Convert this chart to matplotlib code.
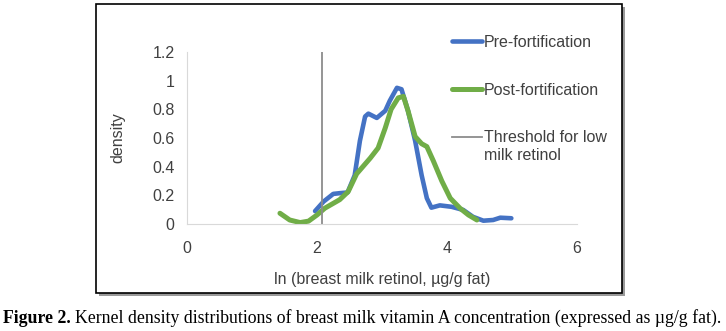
import matplotlib.pyplot as plt
from matplotlib.patches import Rectangle
from matplotlib.legend_handler import HandlerLine2D

# density curves
pre_x = [1.97, 2.10, 2.25, 2.35, 2.47, 2.58, 2.66, 2.74, 2.79, 2.92, 3.05, 3.12, 3.23,
         3.30, 3.40, 3.51, 3.61, 3.69, 3.76, 3.89, 4.07, 4.25, 4.40, 4.56, 4.71, 4.82, 4.99]
pre_y = [0.09, 0.156, 0.21, 0.215, 0.22, 0.34, 0.58, 0.75, 0.77, 0.74, 0.79, 0.86, 0.95,
         0.94, 0.79, 0.58, 0.34, 0.18, 0.114, 0.13, 0.12, 0.098, 0.05, 0.023, 0.028, 0.044, 0.04]
post_x = [1.43, 1.58, 1.74, 1.87, 2.00, 2.12, 2.35, 2.48, 2.61, 2.82, 2.94, 3.05, 3.14,
          3.25, 3.33, 3.40, 3.51, 3.61, 3.69, 3.79, 3.92, 4.05, 4.20, 4.33, 4.46]
post_y = [0.075, 0.028, 0.01, 0.02, 0.063, 0.11, 0.17, 0.226, 0.35, 0.46, 0.53, 0.67, 0.80,
          0.88, 0.89, 0.79, 0.61, 0.56, 0.54, 0.44, 0.30, 0.18, 0.11, 0.063, 0.028]
threshold = 2.07


class TopLineHandler(HandlerLine2D):
    # put the handle beside the first line of a two-line label
    def create_artists(self, legend, orig_handle, xdescent, ydescent, width, height,
                       fontsize, trans):
        artists = super().create_artists(legend, orig_handle, xdescent, ydescent, width,
                                         height, fontsize, trans)
        for a in artists:
            a.set_ydata([y + 0.62 * fontsize for y in a.get_ydata()])
        return artists


plt.rcParams['font.family'] = ['Liberation Sans', 'DejaVu Sans']

fig = plt.figure(figsize=(7.26, 3.31), dpi=100)
W, H = 726, 331

# framed panel with a drop shadow
fig.patches.append(Rectangle((99 / W, (H - 296) / H), 526 / W, 289 / H, transform=fig.transFigure,
                             facecolor='#9a9a9a', edgecolor='none', zorder=0))
fig.patches.append(Rectangle((96 / W, (H - 293) / H), 526 / W, 289 / H, transform=fig.transFigure,
                             facecolor='white', edgecolor='black', linewidth=1.2, zorder=1))

ax = fig.add_axes([187 / W, (H - 224) / H, 390 / W, 172 / H])
ax.set_facecolor('none')
ax.set_zorder(2)

ax.plot(pre_x, pre_y, color='#4472C4', linewidth=3.3, solid_capstyle='round',
        solid_joinstyle='round', label='Pre-fortification')
ax.plot(post_x, post_y, color='#70AD47', linewidth=3.6, solid_capstyle='round',
        solid_joinstyle='round', label='Post-fortification')
thr = ax.axvline(threshold, color='#8c8c8c', linewidth=1.3, label='Threshold for low\nmilk retinol')

ax.set_xlim(0, 6)
ax.set_ylim(0, 1.2)
ax.set_xticks([0, 2, 4, 6])
ax.set_yticks([0, 0.2, 0.4, 0.6, 0.8, 1.0, 1.2])
ax.set_yticklabels(['0', '0.2', '0.4', '0.6', '0.8', '1', '1.2'])
ax.tick_params(length=0, labelsize=11.5, colors='#404040', pad=9)
ax.tick_params(axis='x', pad=12)
for s in ['top', 'right']:
    ax.spines[s].set_visible(False)
ax.spines['left'].set_color('#d9d9d9')
ax.spines['bottom'].set_color('#d9d9d9')

ax.set_ylabel('density', fontsize=11.5, color='#404040', labelpad=19)
ax.set_xlabel('ln (breast milk retinol, µg/g fat)', fontsize=11.5, color='#404040', labelpad=11.5)

leg = ax.legend(loc='upper left', bbox_to_anchor=(0.6795, 1.10), frameon=False,
                fontsize=11.5, handlelength=1.88, handletextpad=0.12, labelspacing=2.05,
                borderpad=0, borderaxespad=0, labelcolor='#404040',
                handler_map={thr: TopLineHandler()})

cap_y = 8 / H
fs = 12.8
t1 = fig.text(3 / W, cap_y, 'Figure 2.', fontfamily='Liberation Serif', fontweight='bold',
              fontsize=fs, va='baseline')
r = fig.canvas.get_renderer()
x_next = t1.get_window_extent(r).x1 + 4
fig.text(x_next / W, cap_y,
         'Kernel density distributions of breast milk vitamin A concentration (expressed as µg/g fat).',
         fontfamily='Liberation Serif', fontsize=fs, va='baseline')

fig.savefig('out.png', dpi=100)
